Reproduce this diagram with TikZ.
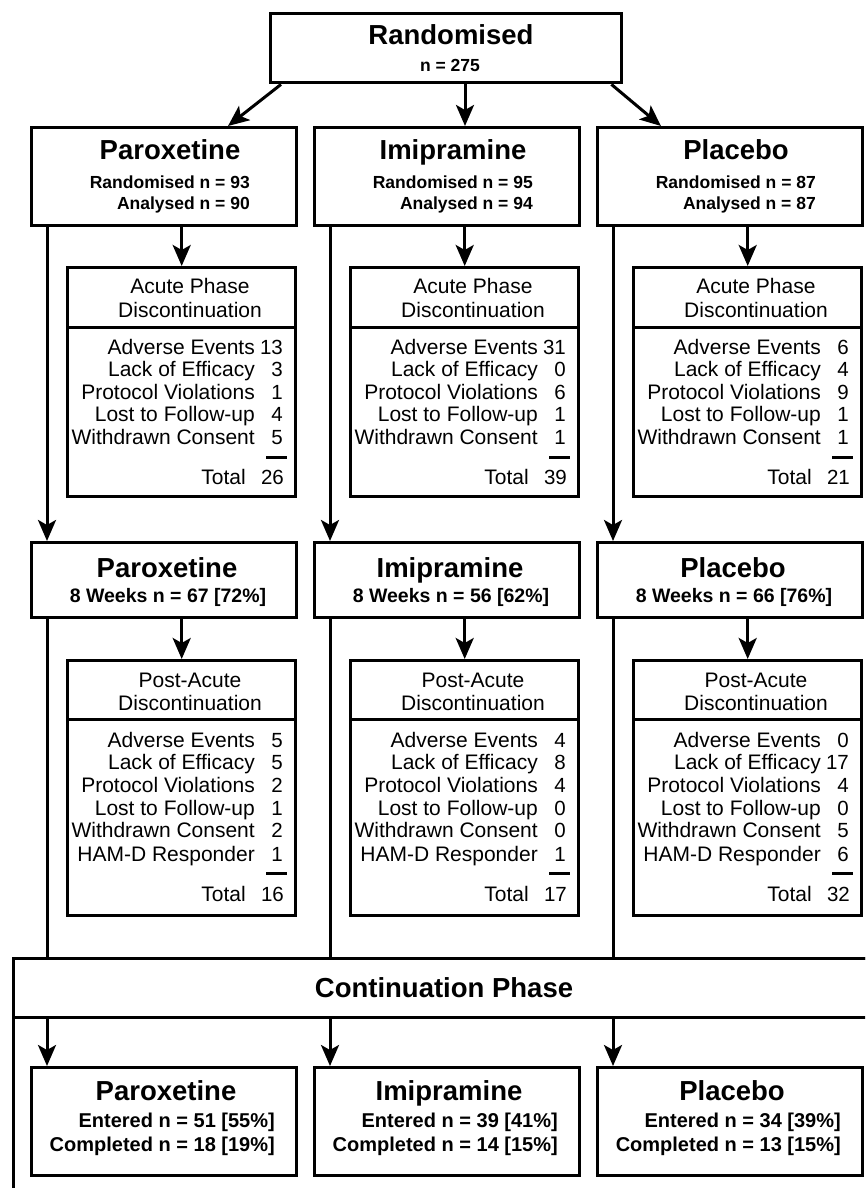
\documentclass[tikz,border=0pt]{standalone}
\usepackage{fontspec}
\setmainfont{Liberation Sans}
\usetikzlibrary{arrows.meta}
\tikzset{
  box/.style={draw, line width=3.4pt, inner sep=0pt, anchor=north west},
  conn/.style={line width=3pt},
  arr/.style={line width=3pt, -{Stealth[length=21pt,width=18pt,inset=5pt]}},
  ttl/.style={inner sep=0pt, anchor=base, font=\fontsize{27.5}{29}\selectfont\bfseries},
  sub/.style={inner sep=0pt, font=\fontsize{17.5}{19}\selectfont\bfseries},
  wk/.style={inner sep=0pt, anchor=base, font=\fontsize{19.5}{21}\selectfont\bfseries},
  ent/.style={inner sep=0pt, anchor=base east, font=\fontsize{20}{22}\selectfont\bfseries},
  reg/.style={inner sep=0pt, font=\fontsize{21}{23}\selectfont},
  num/.style={inner sep=0pt, anchor=base east, font=\fontsize{20.5}{23}\selectfont},
}
\begin{document}
\begin{tikzpicture}[x=1pt,y=-1pt]
\useasboundingbox (0,0) rectangle (865,1188);
\clip (0,0) rectangle (865,1188);

% top box
\node[box, minimum width=351pt, minimum height=69pt] (R) at (269,12) {};
\node[ttl] (Rt) at (451,45) {Randomised};
\node[sub, anchor=base] (Rn) at (450,72) {n = 275};

% continuation frame
\node[box, minimum width=880pt, minimum height=260pt] (contframe) at (12,957) {};
\node[box, minimum width=880pt, minimum height=59pt] (conthead) at (12,957) {};
\node[ttl] (contt) at (444,997) {Continuation Phase};

% columns: boxes and main texts
\foreach \i/\c/\t/\ra/\an/\wn/\wp/\en/\ep/\cn/\cp in {
  1/30/Paroxetine/93/90/67/72/51/55/18/19,
  2/313/Imipramine/95/94/56/62/39/41/14/15,
  3/596/Placebo/87/87/66/76/34/39/13/15}{
  \node[box, minimum width=265pt, minimum height=98pt] (g\i) at (\c,126) {};
  \node[ttl] (gt\i) at (\c+140,159) {\t};
  \node[sub, anchor=base east] (gr\i) at (\c+220,188) {Randomised n = \ra};
  \node[sub, anchor=base east] (ga\i) at (\c+220,209) {Analysed n = \an};

  \node[box, minimum width=228pt, minimum height=229pt] (a\i) at (\c+36,266) {};
  \draw[conn] ([yshift=-61pt]a\i.north west) -- ([yshift=-61pt]a\i.north east);
  \node[reg, anchor=base] (ah\i) at (\c+160,293) {Acute Phase};
  \node[reg, anchor=base] (ad\i) at (\c+160,317) {Discontinuation};

  \node[box, minimum width=265pt, minimum height=75pt] (w\i) at (\c,541) {};
  \node[ttl] (wt\i) at (\c+137,577) {\t};
  \node[wk] (wl\i) at (\c+138,602) {8 Weeks n = \wn{} [\wp\%]};

  \node[box, minimum width=228pt, minimum height=255pt] (p\i) at (\c+36,659) {};
  \draw[conn] ([yshift=-60pt]p\i.north west) -- ([yshift=-60pt]p\i.north east);
  \node[reg, anchor=base] (ph\i) at (\c+160,687) {Post-Acute};
  \node[reg, anchor=base] (pd\i) at (\c+160,710) {Discontinuation};

  \node[box, minimum width=265pt, minimum height=108pt] (b\i) at (\c,1066) {};
  \node[ttl] (bt\i) at (\c+136,1100) {\t};
  \node[ent] (be\i) at (\c+245,1127) {Entered n = \en{} [\ep\%]};
  \node[ent] (bc\i) at (\c+245,1151) {Completed n = \cn{} [\cp\%]};

  % connectors
  \draw[arr] (a\i.north |- g\i.south) -- (a\i.north);
  \coordinate (v\i) at ([xshift=17pt]g\i.south west);
  \coordinate (vw\i) at ([xshift=17pt]w\i.north west);
  \draw[arr] (v\i) -- (vw\i);
  \draw[arr] (p\i.north |- w\i.south) -- (p\i.north);
  \coordinate (u\i) at ([xshift=17pt]w\i.south west);
  \draw[conn] (u\i) -- (u\i |- conthead.north);
  \coordinate (bb\i) at ([xshift=17pt]b\i.north west);
  \draw[arr] (bb\i |- conthead.south) -- (bb\i);
}

% acute phase rows
\foreach \i/\c/\va/\vb/\vc/\vd/\ve/\vt in {
  1/30/13/3/1/4/5/26, 2/313/31/0/6/1/1/39, 3/596/6/4/9/1/1/21}{
  \foreach \k/\y/\lab/\nm in {1/354/Adverse Events/\va, 2/376/Lack of Efficacy/\vb,
      3/399/Protocol Violations/\vc, 4/421/Lost to Follow-up/\vd, 5/444/Withdrawn Consent/\ve}{
    \node[reg, anchor=base east] (al\i-\k) at (\c+225,\y) {\lab};
    \node[num] (an\i-\k) at (\c+253,\y) {\nm};
  }
  \draw[conn] (\c+236,457) -- (\c+257,457);
  \node[reg, anchor=base east] (atl\i) at (\c+216,484) {Total};
  \node[num] (atn\i) at (\c+254,484) {\vt};
}

% post-acute rows
\foreach \i/\c/\va/\vb/\vc/\vd/\ve/\vf/\vt in {
  1/30/5/5/2/1/2/1/16, 2/313/4/8/4/0/0/1/17, 3/596/0/17/4/0/5/6/32}{
  \foreach \k/\y/\lab/\nm in {1/747/Adverse Events/\va, 2/769/Lack of Efficacy/\vb,
      3/792/Protocol Violations/\vc, 4/815/Lost to Follow-up/\vd, 5/837/Withdrawn Consent/\ve,
      6/861/HAM-D Responder/\vf}{
    \node[reg, anchor=base east] (pl\i-\k) at (\c+225,\y) {\lab};
    \node[num] (pn\i-\k) at (\c+253,\y) {\nm};
  }
  \draw[conn] (\c+236,873) -- (\c+257,873);
  \node[reg, anchor=base east] (ptl\i) at (\c+216,901) {Total};
  \node[num] (ptn\i) at (\c+254,901) {\vt};
}

% randomisation arrows
\draw[arr] ([xshift=12pt]R.south west) -- ([xshift=198pt]g1.north west);
\draw[arr] ([xshift=196pt]R.south west) -- ([xshift=152pt]g2.north west);
\draw[arr] ([xshift=-12pt]R.south east) -- ([xshift=65pt]g3.north west);
\end{tikzpicture}
\end{document}
